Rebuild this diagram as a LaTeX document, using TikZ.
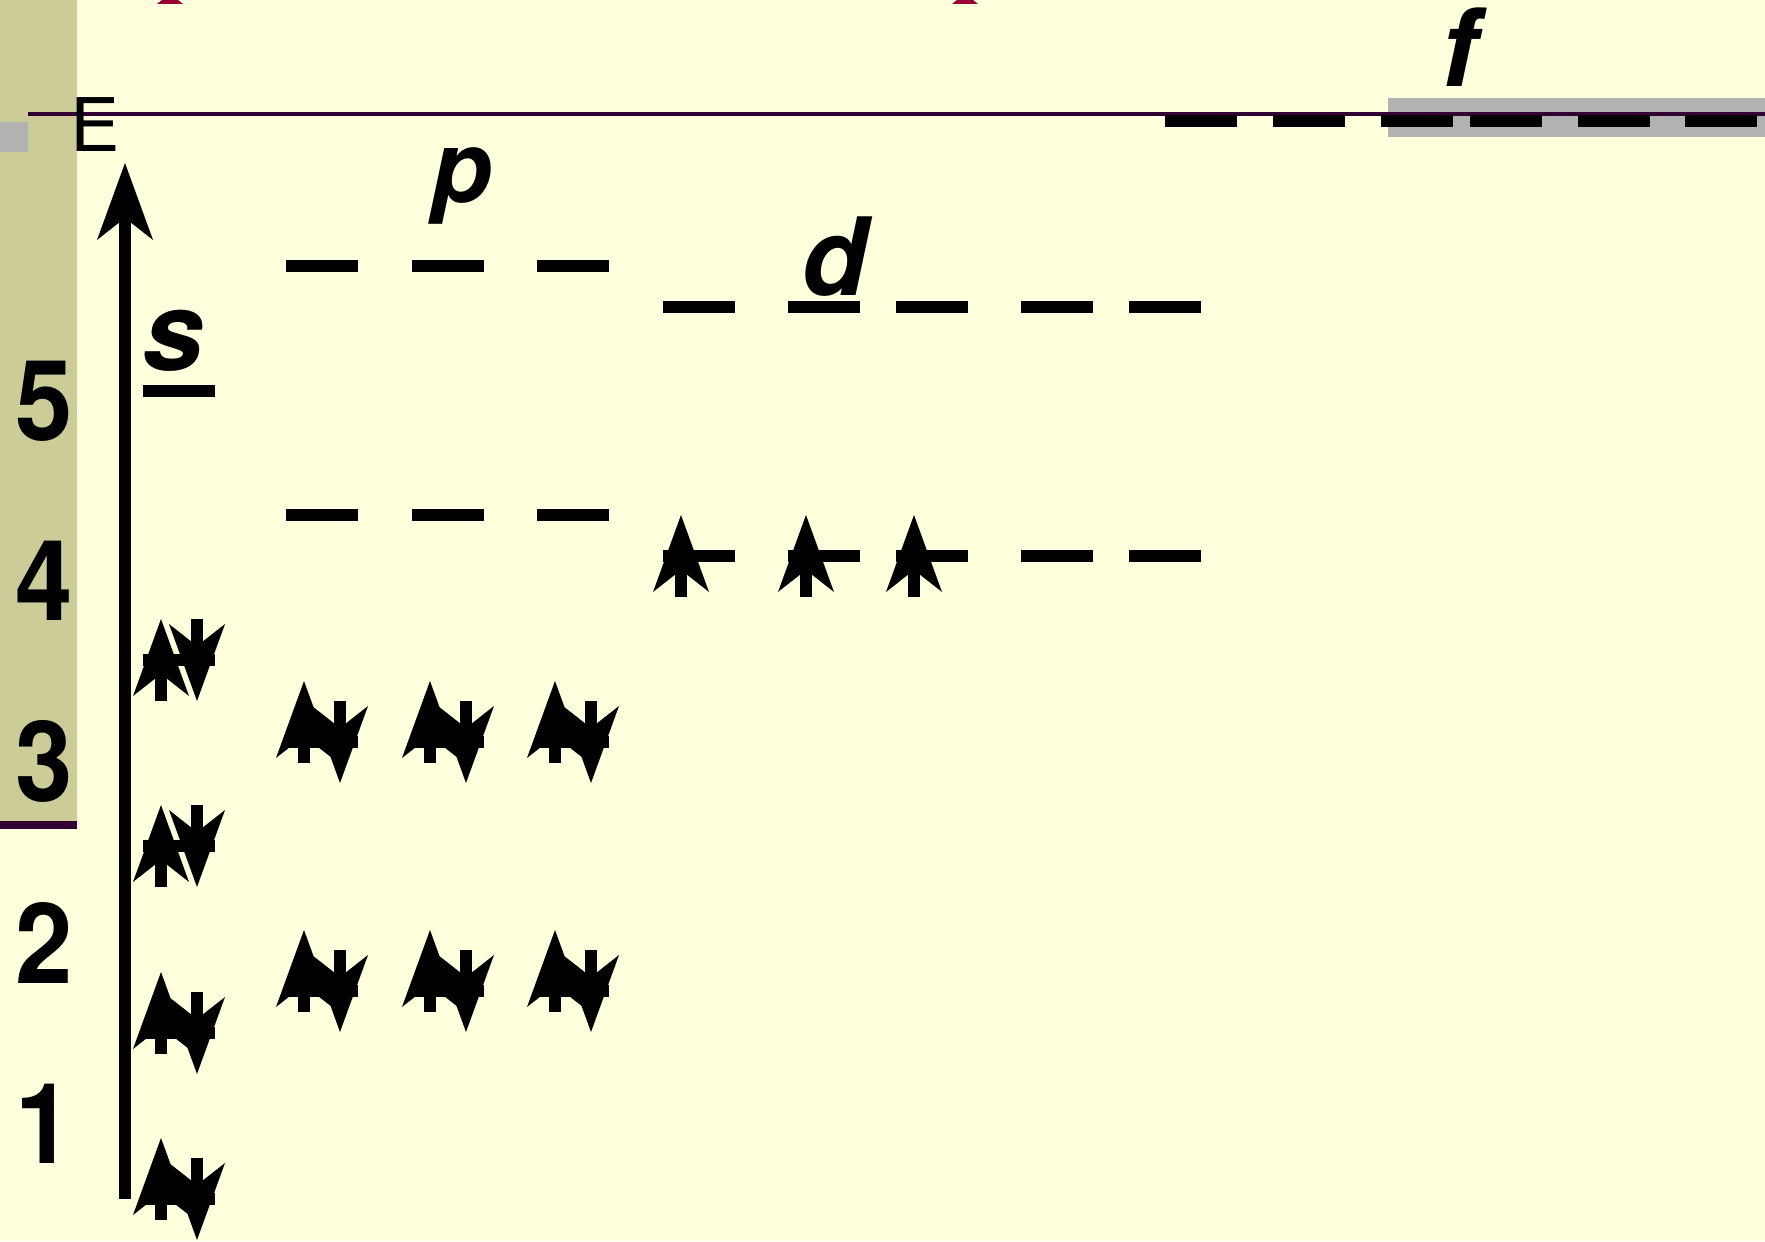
\documentclass[tikz,border=0pt]{standalone}
\usepackage{fontspec}
\setmainfont{TeX Gyre Heros}
\newfontfamily\digitfont[FakeStretch=0.92]{TeX Gyre Heros}
\usetikzlibrary{arrows.meta}
\definecolor{slideBg}{RGB}{255,255,221}
\definecolor{stripKhaki}{RGB}{204,204,153}
\definecolor{markGrey}{RGB}{178,178,178}
\definecolor{rulePurple}{RGB}{51,0,51}
\definecolor{tipRed}{RGB}{153,0,51}
\newcommand{\orbBar}[2]{\draw[orbline] (#1,#2) -- ++(72,0);}

\begin{document}
\begin{tikzpicture}[x=0.5pt,y=-0.5pt,
  orbline/.style={line width=6pt},
  spin/.style={line width=6pt,-{Stealth[length=38.5pt,width=28pt,inset=11pt,line width=0pt]}},
  shellnum/.style={anchor=base,inner sep=0pt,font=\digitfont\fontsize{56}{60}\selectfont\bfseries},
  sublabel/.style={anchor=base,inner sep=0pt,font=\fontsize{54}{58}\selectfont\bfseries\itshape}]
% background and frame pieces
\fill[slideBg] (0,0) rectangle (1765,1241);
\useasboundingbox (0,0) rectangle (1765,1241);
\fill[stripKhaki] (0,0) rectangle (77,825);
\fill[rulePurple] (0,821) rectangle (77,829);
\fill[markGrey] (0,122) rectangle (28,152);
\fill[markGrey] (1388,98) rectangle (1765,137);
\fill[tipRed] (157,4) -- (183,4) -- (178,0) -- (162,0) -- cycle;
\fill[tipRed] (952,4) -- (978,4) -- (973,0) -- (957,0) -- cycle;
\draw[rulePurple, line width=1.8pt] (28,114) -- (1765,114);
% shell numbers
\node[shellnum] (n5) at (44,440) {5};
\node[shellnum] (n4) at (44,620) {4};
\node[shellnum] (n3) at (44,801) {3};
\node[shellnum] (n2) at (44,983) {2};
\node[shellnum] (n1) at (44,1163) {1};
\node[anchor=base west, inner sep=0pt, font=\fontsize{37}{40}\selectfont] (eLabel) at (70,152) {E};
% energy axis
\draw[spin] (125,1199) -- (125,163);
% subshell labels
\node[sublabel, font=\fontsize{55}{60}\selectfont\bfseries\itshape] (sLabel) at (173,370) {s};
\node[sublabel, font=\fontsize{50}{54}\selectfont\bfseries\itshape] (pLabel) at (462,203) {p};
\node[sublabel] (dLabel) at (834,295) {d};
\node[sublabel] (fLabel) at (1459,87) {f};
% s levels
\orbBar{143}{1199}
\orbBar{143}{1033}
\orbBar{143}{846}
\orbBar{143}{660}
\orbBar{143}{391}
% p levels
\orbBar{286}{991} \orbBar{412}{991} \orbBar{537}{991}
\orbBar{286}{742} \orbBar{412}{742} \orbBar{537}{742}
\orbBar{286}{515} \orbBar{412}{515} \orbBar{537}{515}
\orbBar{286}{266} \orbBar{412}{266} \orbBar{537}{266}
% d levels
\orbBar{663}{556} \orbBar{788}{556} \orbBar{896}{556} \orbBar{1021}{556} \orbBar{1129}{556}
\orbBar{663}{307} \orbBar{788}{307} \orbBar{896}{307} \orbBar{1021}{307} \orbBar{1129}{307}
% f level
\orbBar{1165}{121} \orbBar{1273}{121} \orbBar{1381}{121}
\orbBar{1470}{121} \orbBar{1578}{121} \orbBar{1685}{121}
% 1s, 2s
\draw[spin] (161,1220) -- (161,1138);
\draw[spin] (197,1158) -- (197,1240);
\draw[spin] (161,1054) -- (161,972);
\draw[spin] (197,992) -- (197,1074);
% 3s, 4s
\draw[spin] (161,887) -- (161,805);
\draw[spin] (197,805) -- (197,887);
\draw[spin] (161,701) -- (161,619);
\draw[spin] (197,619) -- (197,701);
% 2p
\draw[spin] (304,1012) -- (304,930);
\draw[spin] (340,950) -- (340,1032);
\draw[spin] (430,1012) -- (430,930);
\draw[spin] (466,950) -- (466,1032);
\draw[spin] (555,1012) -- (555,930);
\draw[spin] (591,950) -- (591,1032);
% 3p
\draw[spin] (304,763) -- (304,681);
\draw[spin] (340,701) -- (340,783);
\draw[spin] (430,763) -- (430,681);
\draw[spin] (466,701) -- (466,783);
\draw[spin] (555,763) -- (555,681);
\draw[spin] (591,701) -- (591,783);
% 3d
\draw[spin] (681,597) -- (681,515);
\draw[spin] (806,597) -- (806,515);
\draw[spin] (914,597) -- (914,515);
\end{tikzpicture}
\end{document}
